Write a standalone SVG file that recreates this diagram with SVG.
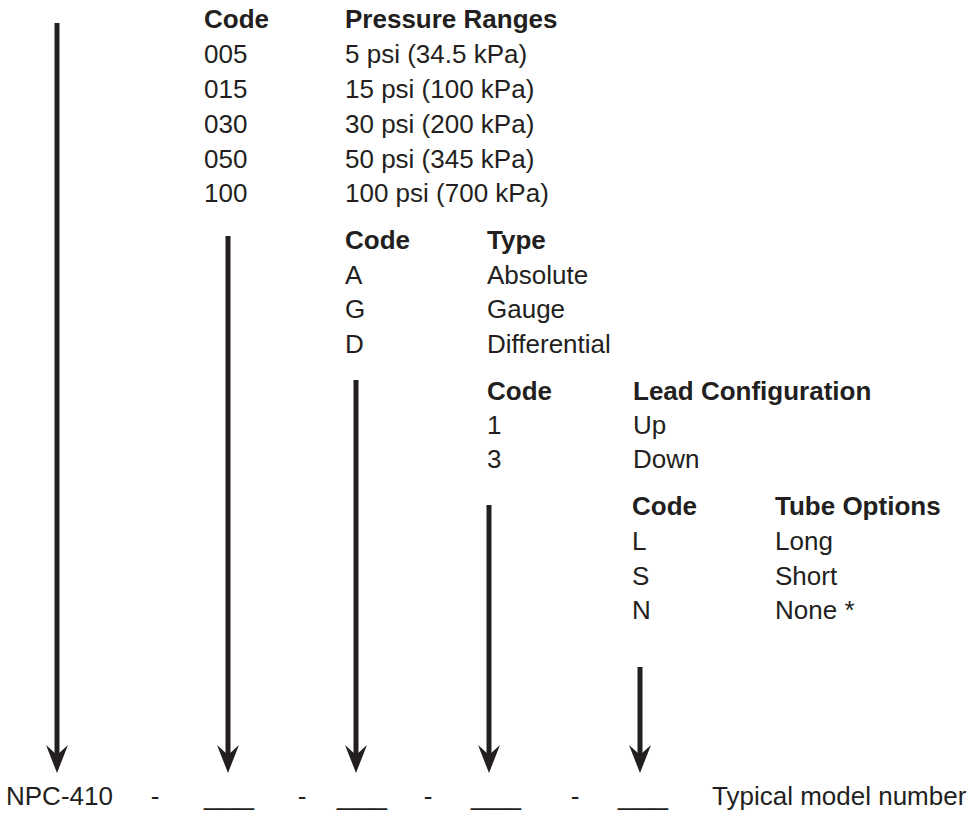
<svg xmlns="http://www.w3.org/2000/svg" width="976" height="823" viewBox="0 0 976 823">
<defs>
<style>
text{font-family:"Liberation Sans",Arial,Helvetica,sans-serif;font-size:26px;fill:#231f20}
.h{font-weight:bold}
.m{text-anchor:middle}
.shaft{stroke:#231f20;stroke-width:5;fill:none}
.head{fill:#231f20}
</style>
</defs>
<rect width="976" height="823" fill="#fff"/>
<g id="connectors">
<path class="shaft" d="M57,23 V758"/>
<path class="head" d="M46,745 L57,755 L68,745 L57,773 Z"/>
<path class="shaft" d="M228,236 V758"/>
<path class="head" d="M217,745 L228,755 L239,745 L228,773 Z"/>
<path class="shaft" d="M356,380 V758"/>
<path class="head" d="M345,745 L356,755 L367,745 L356,773 Z"/>
<path class="shaft" d="M489,505 V758"/>
<path class="head" d="M478,745 L489,755 L500,745 L489,773 Z"/>
<path class="shaft" d="M640,667 V758"/>
<path class="head" d="M629,745 L640,755 L651,745 L640,773 Z"/>
</g>
<g id="pressure-ranges">
<text class="h" x="204" y="28">Code</text>
<text class="h" x="345" y="28">Pressure Ranges</text>
<text x="204" y="63">005</text><text x="345" y="63">5 psi (34.5 kPa)</text>
<text x="204" y="98">015</text><text x="345" y="98">15 psi (100 kPa)</text>
<text x="204" y="133">030</text><text x="345" y="133">30 psi (200 kPa)</text>
<text x="204" y="168">050</text><text x="345" y="168">50 psi (345 kPa)</text>
<text x="204" y="202">100</text><text x="345" y="202">100 psi (700 kPa)</text>
</g>
<g id="type">
<text class="h" x="345" y="249">Code</text>
<text class="h" x="487" y="249">Type</text>
<text x="345" y="284">A</text><text x="487" y="284">Absolute</text>
<text x="345" y="318">G</text><text x="487" y="318">Gauge</text>
<text x="345" y="353">D</text><text x="487" y="353">Differential</text>
</g>
<g id="lead-configuration">
<text class="h" x="487" y="400">Code</text>
<text class="h" x="633" y="400">Lead Configuration</text>
<text x="487" y="434">1</text><text x="633" y="434">Up</text>
<text x="487" y="468">3</text><text x="633" y="468">Down</text>
</g>
<g id="tube-options">
<text class="h" x="632" y="515">Code</text>
<text class="h" x="775" y="515">Tube Options</text>
<text x="632" y="550">L</text><text x="775" y="550">Long</text>
<text x="632" y="585">S</text><text x="775" y="585">Short</text>
<text x="632" y="619">N</text><text x="775" y="619">None *</text>
</g>
<g id="model-number">
<text x="6" y="805">NPC-410</text>
<text class="m" x="155" y="805">-</text>
<text class="m" x="229" y="805" textLength="50" lengthAdjust="spacingAndGlyphs">___</text>
<text class="m" x="302" y="805">-</text>
<text class="m" x="362" y="805" textLength="50" lengthAdjust="spacingAndGlyphs">___</text>
<text class="m" x="428" y="805">-</text>
<text class="m" x="496" y="805" textLength="50" lengthAdjust="spacingAndGlyphs">___</text>
<text class="m" x="575" y="805">-</text>
<text class="m" x="643" y="805" textLength="50" lengthAdjust="spacingAndGlyphs">___</text>
<text x="712" y="805">Typical model number</text>
</g>
</svg>
